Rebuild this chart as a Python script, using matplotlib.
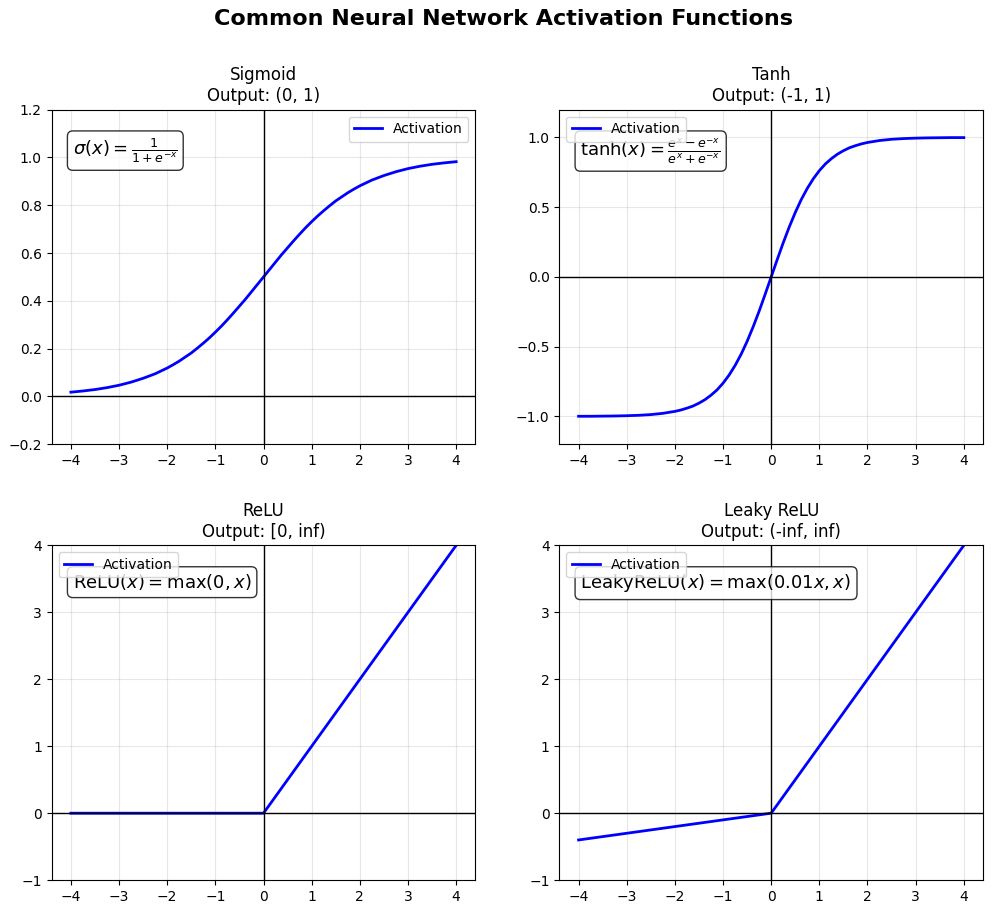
import matplotlib
matplotlib.use("Agg")
import matplotlib.pyplot as plt
import numpy as np

# sample points (finer steps in the bend)
x_smooth = [-4.0, -3.75, -3.5, -3.25, -3.0, -2.75, -2.5, -2.25,
            -2.0, -1.875, -1.75, -1.625, -1.5, -1.375, -1.25, -1.125,
            -1.0, -0.875, -0.75, -0.625, -0.5, -0.375, -0.25, -0.125,
            0.0, 0.125, 0.25, 0.375, 0.5, 0.625, 0.75, 0.875,
            1.0, 1.125, 1.25, 1.375, 1.5, 1.625, 1.75, 1.875,
            2.0, 2.25, 2.5, 2.75, 3.0, 3.25, 3.5, 3.75, 4.0]
sigmoid_y = [0.018, 0.023, 0.029, 0.037, 0.047, 0.060, 0.076, 0.095,
             0.119, 0.133, 0.148, 0.165, 0.182, 0.202, 0.223, 0.245,
             0.269, 0.294, 0.321, 0.349, 0.378, 0.407, 0.438, 0.469,
             0.500, 0.531, 0.562, 0.593, 0.622, 0.651, 0.679, 0.706,
             0.731, 0.755, 0.777, 0.798, 0.818, 0.835, 0.852, 0.867,
             0.881, 0.905, 0.924, 0.940, 0.953, 0.963, 0.971, 0.977, 0.982]
tanh_y = [-0.999, -0.999, -0.998, -0.997, -0.995, -0.992, -0.987, -0.978,
          -0.964, -0.954, -0.941, -0.926, -0.905, -0.880, -0.848, -0.810,
          -0.762, -0.704, -0.635, -0.555, -0.462, -0.358, -0.245, -0.124,
          0.0, 0.124, 0.245, 0.358, 0.462, 0.555, 0.635, 0.704,
          0.762, 0.810, 0.848, 0.880, 0.905, 0.926, 0.941, 0.954,
          0.964, 0.978, 0.987, 0.992, 0.995, 0.997, 0.998, 0.999, 0.999]

# piecewise-linear ones: corner points are enough
x_corner = [-4.0, 0.0, 4.0]
relu_y = [0.0, 0.0, 4.0]
leaky_y = [-0.4, 0.0, 4.0]

titles = ["Sigmoid\nOutput: (0, 1)", "Tanh\nOutput: (-1, 1)",
          "ReLU\nOutput: [0, inf)", "Leaky ReLU\nOutput: (-inf, inf)"]
formulas = [r"$\sigma(x) = \frac{1}{1 + e^{-x}}$",
            r"$\tanh(x) = \frac{e^x - e^{-x}}{e^x + e^{-x}}$",
            r"$\mathrm{ReLU}(x) = \max(0, x)$",
            r"$\mathrm{LeakyReLU}(x) = \max(0.01x, x)$"]
xs = [x_smooth, x_smooth, x_corner, x_corner]
ys = [sigmoid_y, tanh_y, relu_y, leaky_y]
ylims = [(-0.2, 1.2), (-1.2, 1.2), (-1, 4), (-1, 4)]
legend_locs = ["upper right", "upper left", "upper left", "upper left"]

fig, axes = plt.subplots(2, 2, figsize=(9.93, 9.13))
fig.subplots_adjust(left=0.052, right=0.99, top=0.88, bottom=0.036,
                    wspace=0.198, hspace=0.302)
fig.suptitle("Common Neural Network Activation Functions",
             fontsize=16, fontweight="bold", x=0.507, y=0.99)

for ax, x, y, t, f, yl, loc in zip(axes.flat, xs, ys, titles, formulas,
                                   ylims, legend_locs):
    ax.plot(x, y, color="blue", lw=2, label="Activation")
    ax.axhline(0, color="black", lw=1)
    ax.axvline(0, color="black", lw=1)
    ax.grid(True, alpha=0.3)
    ax.set_title(t, fontsize=12)
    ax.set_xlim(-4.4, 4.4)
    ax.set_ylim(*yl)
    ax.set_xticks(np.arange(-4, 5, 1))
    ax.text(0.05, 0.92, f, transform=ax.transAxes, fontsize=13, va="top",
            bbox=dict(boxstyle="round", facecolor="white", alpha=0.8))
    ax.legend(loc=loc)

axes[0, 1].set_yticks([-1.0, -0.5, 0.0, 0.5, 1.0])

fig.savefig("out.png", dpi=100)
